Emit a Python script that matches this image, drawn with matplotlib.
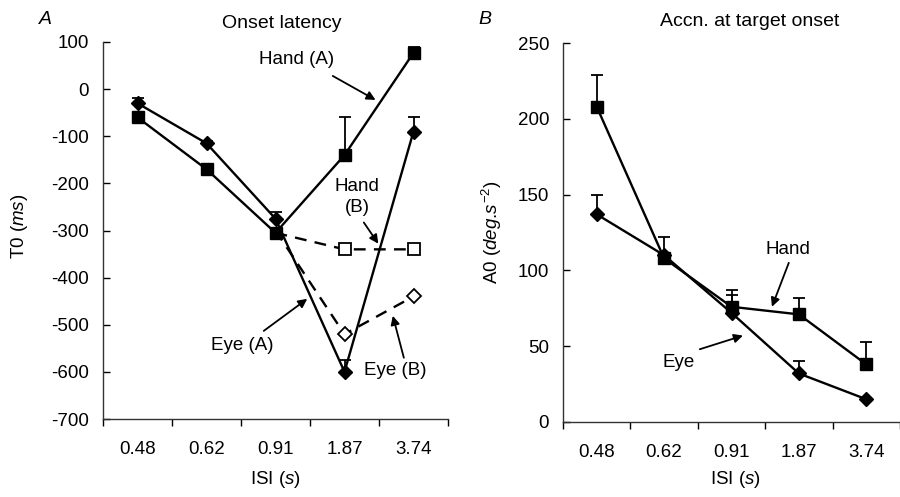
import numpy as np
import matplotlib
matplotlib.use("Agg")
import matplotlib.pyplot as plt

plt.rcParams['font.family'] = ['Liberation Sans', 'DejaVu Sans']
plt.rcParams['mathtext.fontset'] = 'custom'
plt.rcParams['mathtext.rm'] = 'Liberation Sans'
plt.rcParams['mathtext.it'] = 'Liberation Sans:italic'
plt.rcParams['axes.unicode_minus'] = False
FS = 13.5
plt.rcParams['font.size'] = FS

isi_labels = ['0.48', '0.62', '0.91', '1.87', '3.74']
nan = np.nan

# Panel A: onset latency T0 (ms)
hand_a = [-60, -170, -305, -140, 77]
hand_a_err = [0, 0, 0, 80, 13]
eye_a = [-30, -115, -275, -600, -90]
eye_a_err = [12, 5, 15, 25, 30]
hand_b = [nan, nan, -305, -340, -340]
eye_b = [nan, nan, -300, -520, -440]

# Panel B: acceleration at target onset A0
hand_acc = [208, 108, 76, 71, 38]
hand_acc_err = [21, 14, 11, 11, 15]
eye_acc = [137, 110, 72, 32, 15]
eye_acc_err = [13, 0, 12, 8, 0]

W, H = 900, 497
fig = plt.figure(figsize=(9, 4.97), dpi=100)

def px_axes(l, r, t, b):
    return fig.add_axes([l / W, 1 - b / H, (r - l) / W, (b - t) / H])

axA = px_axes(103, 448, 42, 419)
axB = px_axes(563, 900, 43, 422)

x = np.arange(len(isi_labels))

def style(ax, xmax):
    for s in ['top', 'right']:
        ax.spines[s].set_visible(False)
    for s in ['left', 'bottom']:
        ax.spines[s].set_linewidth(1.0)
        ax.spines[s].set_color('#333333')
    ax.set_xlim(-0.5, xmax)
    ax.set_xticks(np.arange(-0.5, 5.0, 1.0))
    ax.set_xticklabels([])
    ax.set_xticks(x, minor=True)
    ax.set_xticklabels(isi_labels, minor=True)
    ax.tick_params(axis='x', which='major', direction='out', length=5, width=1)
    ax.tick_params(axis='x', which='minor', length=0, pad=16, labelsize=FS)
    ax.tick_params(axis='y', direction='in', length=5, width=1, pad=10, labelsize=FS)

lw = 1.7
sq = 8.5
dm = 7.5
eb = dict(capsize=4.5, elinewidth=1.3, capthick=1.3, color='black', linewidth=lw)

# Panel A
axA.errorbar(x, hand_a, yerr=[np.zeros(5), hand_a_err], marker='s', markersize=sq, **eb)
axA.errorbar(x, eye_a, yerr=[np.zeros(5), eye_a_err], marker='D', markersize=dm, **eb)
axA.plot(x, hand_b, linestyle=(0, (5, 3.5)), marker='s', markerfacecolor='white',
         markeredgecolor='black', markeredgewidth=1.3, color='black', linewidth=lw,
         markersize=8, markevery=[3, 4])
axA.plot(x, eye_b, linestyle=(0, (5, 3.5)), marker='D', markerfacecolor='white',
         markeredgecolor='black', markeredgewidth=1.3, color='black', linewidth=lw,
         markersize=7, markevery=[3, 4])
axA.set_ylim(-700, 100)
axA.set_yticks(np.arange(-700, 101, 100))
style(axA, 4.5)
axA.set_xlabel(r'ISI ($\mathit{s}$)', fontsize=FS, va='center')
axA.xaxis.set_label_coords(0.5, -(480 - 419) / 377)
axA.set_ylabel(r'T0 ($\mathit{ms}$)', fontsize=FS, va='center')
axA.yaxis.set_label_coords((20 - 103) / 345, (419 - 226) / 377)

arr = dict(arrowstyle='-|>', color='black', lw=1.3, mutation_scale=13, shrinkA=0, shrinkB=0)
axA.annotate('', xy=(3.45, -23), xytext=(2.83, 28), arrowprops=arr)
axA.text(2.3, 62, 'Hand (A)', ha='center', va='center', fontsize=FS)
axA.annotate('', xy=(3.49, -328), xytext=(3.28, -283), arrowprops=arr)
axA.text(3.18, -228, 'Hand\n(B)', ha='center', va='center', fontsize=FS, linespacing=1.3)
axA.annotate('', xy=(2.46, -445), xytext=(1.83, -513), arrowprops=arr)
axA.text(1.52, -545, 'Eye (A)', ha='center', va='center', fontsize=FS)
axA.annotate('', xy=(3.70, -481), xytext=(3.86, -570), arrowprops=arr)
axA.text(3.73, -597, 'Eye (B)', ha='center', va='center', fontsize=FS)

# Panel B
axB.errorbar(x, hand_acc, yerr=[np.zeros(5), hand_acc_err], marker='s', markersize=sq, **eb)
axB.errorbar(x, eye_acc, yerr=[np.zeros(5), eye_acc_err], marker='D', markersize=dm, **eb)
axB.set_ylim(0, 250)
axB.set_yticks(np.arange(0, 251, 50))
style(axB, 4.33)
axB.set_xlabel(r'ISI ($\mathit{s}$)', fontsize=FS, va='center')
axB.xaxis.set_label_coords((735 - 563) / 337, -(480 - 422) / 379)
axB.set_ylabel(r'A0 ($\mathit{deg}$.$\mathit{s}^{-2}$)', fontsize=FS, va='center')
axB.yaxis.set_label_coords((492 - 563) / 337, (422 - 232) / 379)
axB.annotate('', xy=(2.60, 76), xytext=(2.85, 105), arrowprops=arr)
axB.text(2.83, 114, 'Hand', ha='center', va='center', fontsize=FS)
axB.annotate('', xy=(2.17, 57), xytext=(1.53, 48), arrowprops=arr)
axB.text(1.21, 39, 'Eye', ha='center', va='center', fontsize=FS)

fig.text(282 / W, 1 - 23 / H, 'Onset latency', ha='center', va='center', fontsize=14)
fig.text(750 / W, 1 - 21 / H, 'Accn. at target onset', ha='center', va='center', fontsize=14)
fig.text(45 / W, 1 - 20 / H, 'A', ha='center', va='center', fontsize=14, style='italic')
fig.text(485 / W, 1 - 20 / H, 'B', ha='center', va='center', fontsize=14, style='italic')

fig.savefig('out.png', dpi=100)
